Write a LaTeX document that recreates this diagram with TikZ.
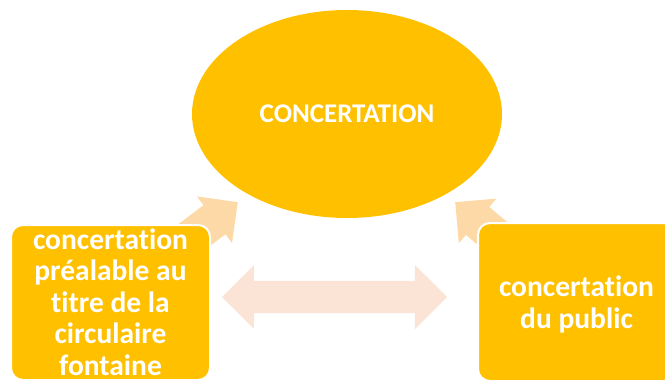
\documentclass[tikz,border=0pt]{standalone}
\usepackage{fontspec}
\setmainfont{Carlito}[Ligatures=NoCommon]
\usepackage{xcolor}
\definecolor{colorBox}{HTML}{FFC000}
\definecolor{colorArrow}{HTML}{FDD9A8}
\definecolor{colorLink}{HTML}{FBE4D5}
\usetikzlibrary{shapes.geometric, shapes.arrows, positioning}
\tikzset{
  box/.style={rectangle, rounded corners=12pt, fill=colorBox, draw=white, line width=2pt, inner sep=0pt},
  boxtext/.style={text=white, font=\bfseries\fontsize{29.5}{31.5}\selectfont, align=center, inner sep=0pt},
  uparrow/.style={single arrow, fill=colorArrow, draw=none, minimum height=95pt, minimum width=58pt,
    single arrow head extend=11pt, inner xsep=0pt, inner ysep=18pt, anchor=tip},
}

\begin{document}
\begin{tikzpicture}[x=1pt, y=-1pt]
\useasboundingbox (0,0) rectangle (665,380);
\clip (0,0) rectangle (665,380);
% arrows behind the boxes
\node[uparrow, rotate=37] (a1) at (238,202) {};
\node[uparrow, rotate=140] (a2) at (455,202) {};
\node[double arrow, fill=colorLink, minimum height=225pt, minimum width=64pt, double arrow head extend=16pt,
  inner xsep=0pt, inner ysep=16pt] (a3) at (334.5,297) {};
% boxes
\node[box, minimum width=199pt, minimum height=155pt] (prealable) at (110.5,302.5) {};
\node[box, minimum width=197pt, minimum height=158pt] (public) at (576.5,302) {};
\node[boxtext] (t1) at (110.5,302) {concertation\\pr\'ealable au\\titre de la\\circulaire\\fontaine};
\node[boxtext, font=\bfseries\fontsize{29.5}{32}\selectfont] (t2) at (576.5,304) {concertation\\du public};
\node[ellipse, fill=colorBox, minimum width=310pt, minimum height=208pt, text=white,
  font=\bfseries\fontsize{27}{30}\selectfont] (concert) at (347,114) {CONCERTATION};
\end{tikzpicture}
\end{document}
